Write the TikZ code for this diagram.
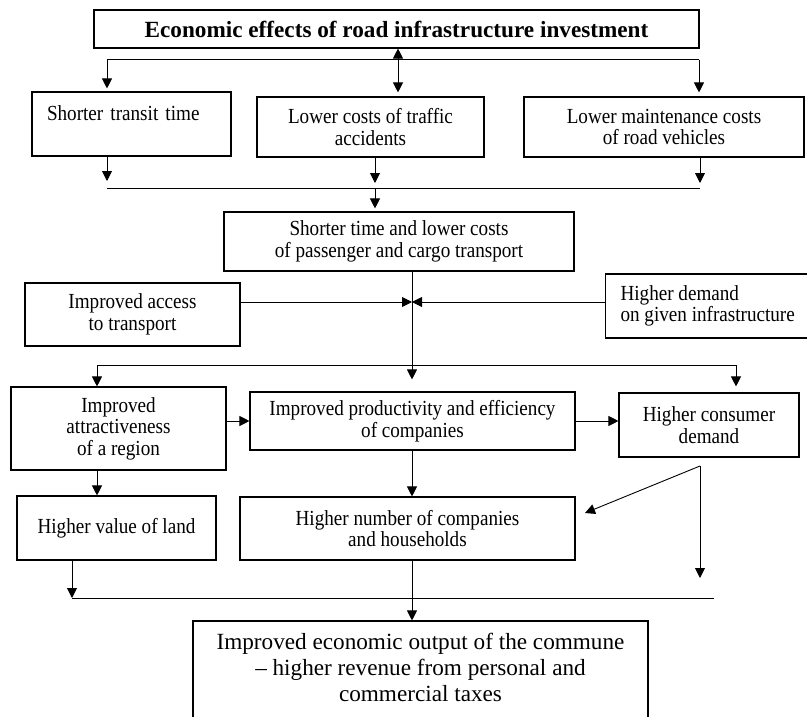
\documentclass[tikz,border=0pt]{standalone}
\usepackage{fontspec}
\setmainfont{Liberation Serif}[FakeStretch=0.89]
\newfontfamily\widefont{Liberation Serif}
\usetikzlibrary{arrows.meta}

\begin{document}
\begin{tikzpicture}[x=1pt, y=-1pt,
    box/.style={draw, line width=1.1pt, inner sep=2pt, align=center, font=\fontsize{21.5}{21.5}\selectfont},
    flow/.style={-{Triangle[length=10pt,width=10pt]}, line width=0.9pt},
    bus/.style={line width=1pt}]

\clip (0,0) rectangle (807,717);

% --- TOP: SOURCE AND FIRST-ORDER EFFECTS ---
\node[box, minimum width=605pt, minimum height=38pt, font=\widefont\fontsize{23.2}{26}\selectfont\bfseries] (invest) at (396.5,29) {Economic effects of road infrastructure investment};

\node[box, minimum width=199pt, minimum height=64pt, align=left, text width=169pt, inner xsep=15pt] (transit) at (131.5,124) {Shorter transit time\\\mbox{}};
\node[box, minimum width=227pt, minimum height=60pt] (accidents) at (370.5,127) {Lower costs of traffic\\accidents};
\node[box, minimum width=280pt, minimum height=60pt] (vehicles) at (664,127) {Lower maintenance costs\\of road vehicles};

% --- MIDDLE: TRANSPORT COSTS AND SIDE FACTORS ---
\node[box, minimum width=350pt, minimum height=59pt] (costs) at (399,241.5) {Shorter time and lower costs\\of passenger and cargo transport};
\node[box, minimum width=215pt, minimum height=63pt] (access) at (132.5,314.5) {Improved access\\to transport};
\node[box, minimum width=201pt, minimum height=64pt, align=left, inner xsep=15pt, anchor=west] (demand) at (605,306) {Higher demand\\on given infrastructure};

% --- LOWER: REGION, COMPANIES, CONSUMERS ---
\node[box, minimum width=215pt, minimum height=83pt] (attract) at (118.5,428.5) {Improved\\attractiveness\\of a region};
\node[box, minimum width=325pt, minimum height=58pt] (prod) at (412.5,421) {Improved productivity and efficiency\\of companies};
\node[box, minimum width=180pt, minimum height=64pt] (consumer) at (709,425) {Higher consumer\\demand};
\node[box, minimum width=199pt, minimum height=64pt] (land) at (116.5,528) {Higher value of land};
\node[box, minimum width=335pt, minimum height=63pt] (number) at (407.5,528.5) {Higher number of companies\\and households};

% --- BOTTOM: COMMUNE ---
\node[box, minimum width=455pt, minimum height=101pt, text depth=9pt, font=\widefont\fontsize{23.2}{26}\selectfont] (output) at (420.5,671.5) {Improved economic output of the commune\\– higher revenue from personal and\\commercial taxes};

% --- BUS LINES ---
\coordinate (busA-l) at (107,60);
\coordinate (busA-m) at (398,60);
\coordinate (busA-r) at (699,60);
\coordinate (busB-l) at (107,188);
\coordinate (busB-m) at (375,188);
\coordinate (busB-r) at (700,188);
\coordinate (busC-l) at (97,365);
\coordinate (busC-m) at (412,365);
\coordinate (busC-r) at (736,365);
\coordinate (busD-l) at (72,598);
\coordinate (busD-m) at (412,598);
\coordinate (busD-r) at (714,598);
\coordinate (meet) at (412,302);
\coordinate (split) at (700,466);
\coordinate (side) at (585,513);
\coordinate (drop) at (700,578);

\draw[bus] (busA-l) -- (busA-r);
\draw[bus] (busB-l) -- (busB-r);
\draw[bus] (busC-l) -- (busC-r);
\draw[bus] (busD-l) -- (busD-r);

% --- CONNECTORS ---
\draw[flow, shorten >=3pt] (busA-l) -- (transit.north -| busA-l);
\draw[flow, {Triangle[length=10pt,width=10pt]}-{Triangle[length=10pt,width=10pt]}, shorten >=4pt] (invest.south -| busA-m) -- (accidents.north -| busA-m);
\draw[flow, shorten >=4pt] (busA-r) -- (vehicles.north -| busA-r);

\draw[flow, shorten >=7pt] (transit.south -| busB-l) -- (busB-l);
\draw[flow, shorten >=5pt] (accidents.south -| busB-m) -- (busB-m);
\draw[flow, shorten >=3pt] (busB-m) -- (costs.north -| busB-m);
\draw[flow, shorten >=5pt] (vehicles.south -| busB-r) -- (busB-r);

\draw[flow, shorten >=12pt] (costs.south -| busC-m) -- (prod.north -| busC-m);
\draw[flow] (meet -| access.east) -- (meet);
\draw[flow] (meet -| demand.west) -- (meet);
\draw[flow] (busC-l) -- (attract.north -| busC-l);
\draw[flow, shorten >=6pt] (busC-r) -- (consumer.north -| busC-r);

\draw[flow] (attract.east |- prod.west) -- (prod.west);
\draw[flow] (prod.east) -- (prod.east -| consumer.west);
\draw[flow] (attract.south -| busC-l) -- (land.north -| busC-l);
\draw[flow] (prod.south -| busC-m) -- (number.north -| busC-m);
\draw[flow] (split) -- (side);
\draw[flow] (split) -- (drop);

\draw[flow] (land.south -| busD-l) -- (busD-l);
\draw[flow] (number.south -| busD-m) -- (output.north -| busD-m);

\end{tikzpicture}
\end{document}
